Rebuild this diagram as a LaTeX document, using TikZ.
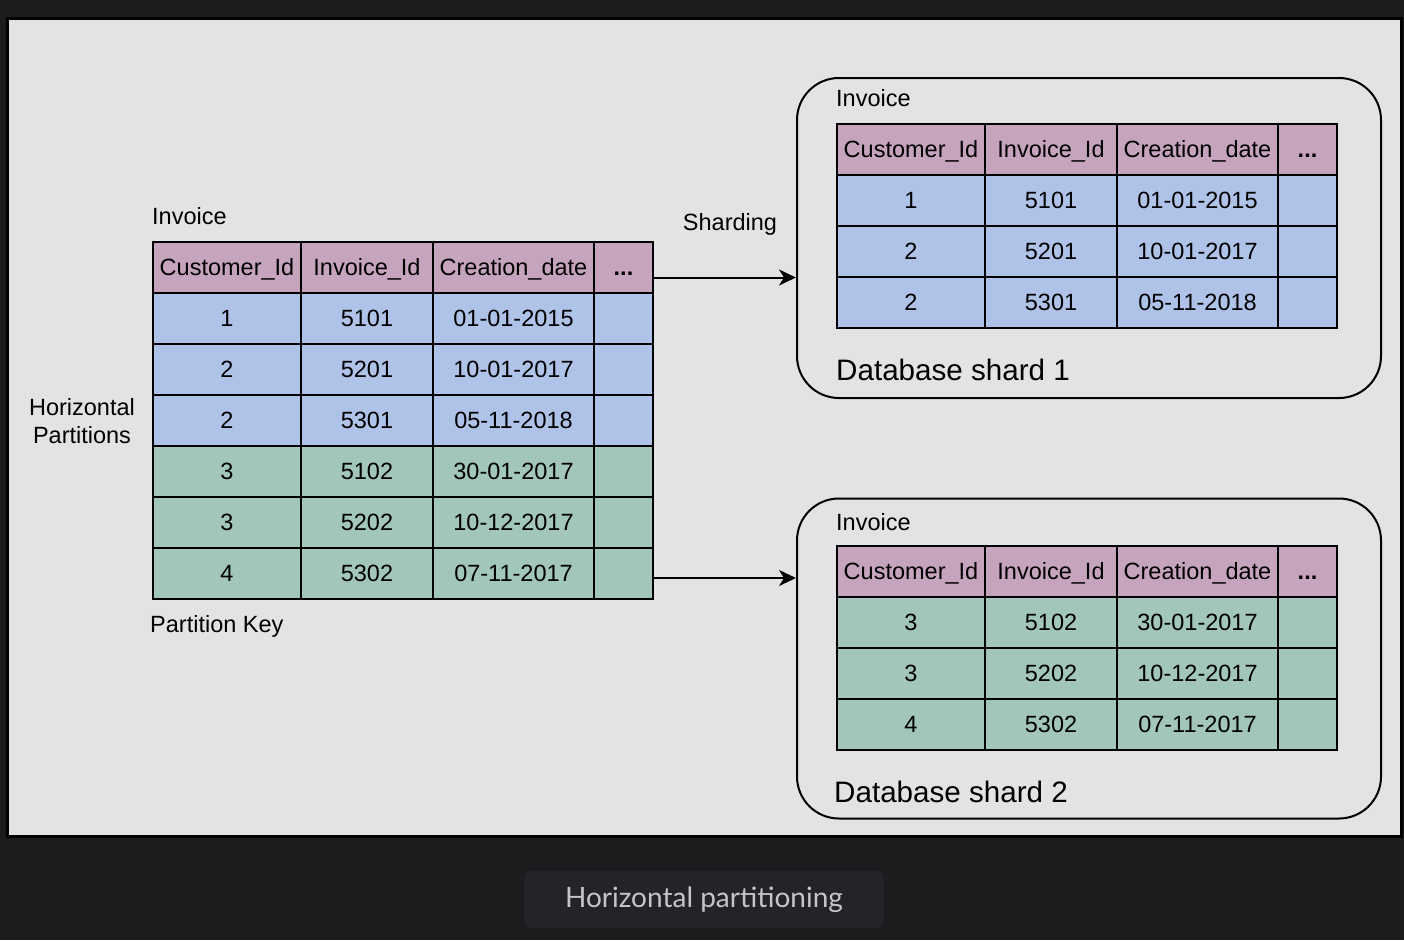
\documentclass[tikz,border=0pt]{standalone}
\usepackage{fontspec}
\setmainfont{Liberation Sans}
\newfontfamily\captionfont{Lato}
\usetikzlibrary{arrows.meta,positioning}

\definecolor{pagedark}{HTML}{1C1C1E}
\definecolor{panelgrey}{HTML}{E3E3E5}
\definecolor{hdrpink}{HTML}{C6A4BD}
\definecolor{rowblue}{HTML}{AFC3E9}
\definecolor{rowgreen}{HTML}{A2C6BC}
\definecolor{capbox}{HTML}{232428}
\definecolor{captext}{HTML}{C4C5C9}

\newcommand{\cellfont}{\fontsize{23.5}{28}\selectfont}
\newcommand{\shardfont}{\fontsize{29.6}{34}\selectfont}
\newcommand{\moredots}{\textbf{...}}

\tikzset{
  cell/.style={draw=black, line width=2pt, minimum height=51pt, inner sep=0pt,
    outer sep=0pt, anchor=north west, font=\cellfont, text height=16.8pt, text depth=0pt},
  hdrcell/.style={cell, fill=hdrpink},
  txtlabel/.style={inner sep=0pt, font=\cellfont},
  shardbox/.style={draw=black, line width=2pt, rounded corners=42pt,
    minimum width=584pt, minimum height=320pt, inner sep=0pt},
  flow/.style={-{Stealth[length=17pt, width=16pt, inset=5pt]}, line width=2pt},
}

% one invoice table: name, top left x, top left y, rows
\newcommand{\invoicetable}[4]{%
  \foreach \dx/\w/\t [count=\c] in {0/148/Customer\_Id, 148/132/Invoice\_Id,
      280/161/Creation\_date, 441/59/\moredots}
    \node[hdrcell, minimum width=\w pt] (#1-0-\c) at (#2+\dx,#3) {\t};
  \foreach \id/\inv/\date/\fillc [count=\r] in {#4} {
    \node[cell, fill=\fillc, minimum width=148pt] (#1-\r-1) at (#2,#3+51*\r) {\id};
    \node[cell, fill=\fillc, minimum width=132pt] (#1-\r-2) at (#2+148,#3+51*\r) {\inv};
    \node[cell, fill=\fillc, minimum width=161pt] (#1-\r-3) at (#2+280,#3+51*\r) {\date};
    \node[cell, fill=\fillc, minimum width=59pt] (#1-\r-4) at (#2+441,#3+51*\r) {};
  }%
}

\begin{document}
\begin{tikzpicture}[x=1pt, y=-1pt]
  % page and panel
  \fill[pagedark] (0,0) rectangle (1404,940);
  \draw[fill=panelgrey, line width=3pt] (7.5,18) rectangle (1401.5,836.5);

  % source table
  \node[txtlabel, anchor=west] (invlabel) at (152,216) {Invoice};
  \invoicetable{inv}{153}{242}{1/5101/01-01-2015/rowblue, 2/5201/10-01-2017/rowblue,
    2/5301/05-11-2018/rowblue, 3/5102/30-01-2017/rowgreen,
    3/5202/10-12-2017/rowgreen, 4/5302/07-11-2017/rowgreen}
  \node[txtlabel, align=center] (partitions) at (82,421) {Horizontal\\Partitions};
  \node[txtlabel, anchor=west] (partkey) at (150,626) {Partition Key};

  % shards
  \node[shardbox] (shard1) at (1089,238) {};
  \node[shardbox] (shard2) at (1089,658.5) {};
  \node[txtlabel, anchor=west] (s1label) at (836,98) {Invoice};
  \node[txtlabel, anchor=west] (s2label) at (836,522) {Invoice};
  \invoicetable{sa}{837}{124}{1/5101/01-01-2015/rowblue, 2/5201/10-01-2017/rowblue,
    2/5301/05-11-2018/rowblue}
  \invoicetable{sb}{837}{546}{3/5102/30-01-2017/rowgreen, 3/5202/10-12-2017/rowgreen,
    4/5302/07-11-2017/rowgreen}
  \node[txtlabel, font=\shardfont, anchor=west] (s1name) at (836,370) {Database shard 1};
  \node[txtlabel, font=\shardfont, anchor=west] (s2name) at (834,792) {Database shard 2};

  % sharding arrows
  \node[txtlabel] (sharding) at (730,224) {Sharding};
  \coordinate (out1) at ([yshift=-10pt]inv-0-4.east);
  \coordinate (out2) at ([yshift=-4.5pt]inv-6-4.east);
  \draw[flow] (out1) -- (out1 -| shard1.west);
  \draw[flow] (out2) -- (out2 -| shard2.west);

  % caption
  \node[fill=capbox, rounded corners=7pt, minimum width=360pt, minimum height=57pt,
    font=\captionfont\fontsize{28}{32}\selectfont, text=captext] (caption)
    at (704,899.5) {Horizontal partitioning};
\end{tikzpicture}
\end{document}
